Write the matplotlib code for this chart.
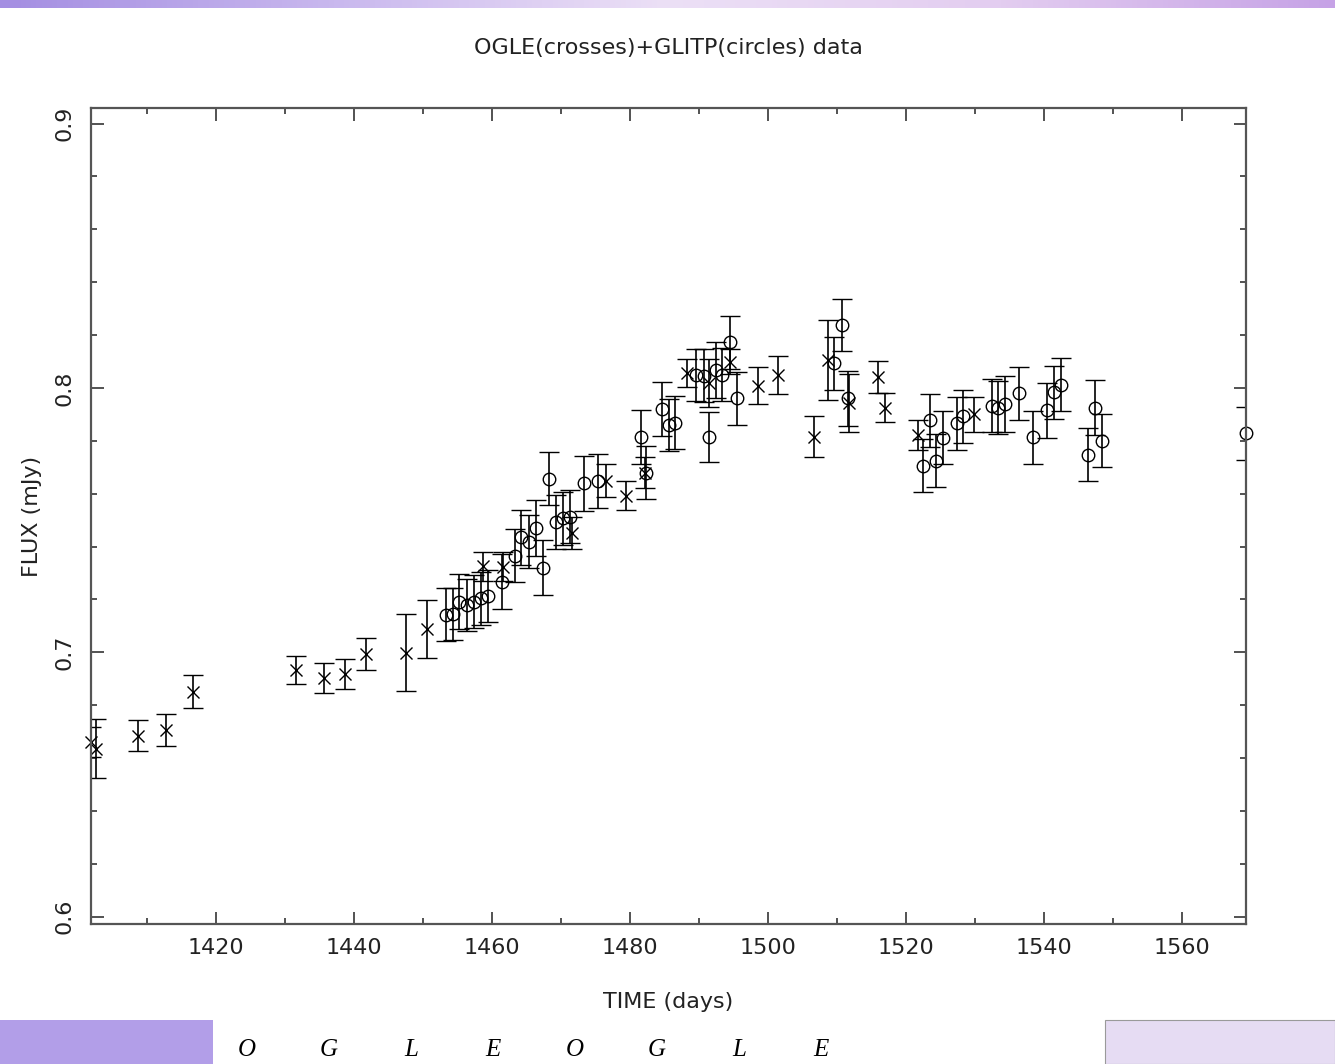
import numpy as np
import matplotlib
matplotlib.use("Agg")
import matplotlib.pyplot as plt
from matplotlib.colors import LinearSegmentedColormap
from matplotlib.patches import Rectangle

# OGLE points (crosses)
ogle_t = [1401.9, 1402.7, 1408.8, 1412.8, 1416.7, 1431.7, 1435.7, 1438.7, 1441.8,
          1447.6, 1450.6, 1458.7, 1461.6, 1471.6, 1476.6, 1479.5, 1482.2, 1488.3,
          1491.5, 1494.5, 1498.6, 1501.5, 1506.6, 1508.7, 1511.7, 1515.9, 1516.9,
          1521.8, 1529.8]
ogle_f = [0.6661, 0.6636, 0.6684, 0.6706, 0.6851, 0.6933, 0.6904, 0.6918, 0.6994,
          0.6999, 0.7089, 0.7325, 0.7324, 0.7450, 0.7649, 0.7592, 0.7680, 0.8056,
          0.8018, 0.8100, 0.8008, 0.8050, 0.7816, 0.8106, 0.7942, 0.8041, 0.7926,
          0.7823, 0.7901]
ogle_e = [0.0056, 0.0112, 0.0058, 0.0060, 0.0063, 0.0054, 0.0057, 0.0056, 0.0060,
          0.0146, 0.0110, 0.0055, 0.0055, 0.0060, 0.0063, 0.0055, 0.0060, 0.0052,
          0.0090, 0.0047, 0.0070, 0.0072, 0.0076, 0.0150, 0.0110, 0.0060, 0.0053,
          0.0057, 0.0066]

# GLITP points (circles)
glitp_t = [1453.3, 1454.4, 1455.3, 1456.4, 1457.4, 1458.4, 1459.4, 1461.5, 1463.4,
           1464.2, 1465.4, 1466.4, 1467.4, 1468.3, 1469.3, 1470.3, 1471.3, 1473.3,
           1475.4, 1481.6, 1482.4, 1484.6, 1485.6, 1486.5, 1489.6, 1490.7, 1491.4,
           1492.5, 1493.3, 1494.5, 1495.5, 1509.6, 1510.7, 1511.6, 1522.4, 1523.4,
           1524.3, 1525.4, 1527.4, 1528.3, 1532.4, 1533.3, 1534.4, 1536.4, 1538.4,
           1540.4, 1541.4, 1542.4, 1546.4, 1547.4, 1548.4, 1569.2]
glitp_f = [0.7142, 0.7145, 0.7192, 0.7179, 0.7192, 0.7205, 0.7213, 0.7267, 0.7366,
           0.7435, 0.7419, 0.7470, 0.7320, 0.7656, 0.7492, 0.7507, 0.7513, 0.7640,
           0.7649, 0.7814, 0.7680, 0.7921, 0.7860, 0.7869, 0.8050, 0.8046, 0.7814,
           0.8068, 0.8050, 0.8173, 0.7961, 0.8094, 0.8238, 0.7961, 0.7706, 0.7877,
           0.7725, 0.7812, 0.7867, 0.7892, 0.7933, 0.7926, 0.7939, 0.7980, 0.7814,
           0.7915, 0.7983, 0.8013, 0.7747, 0.7926, 0.7801, 0.7829]
glitp_e = [0.0100, 0.0100, 0.0105, 0.0100, 0.0100, 0.0100, 0.0100, 0.0105, 0.0100,
           0.0104, 0.0100, 0.0107, 0.0103, 0.0100, 0.0102, 0.0100, 0.0100, 0.0104,
           0.0103, 0.0102, 0.0100, 0.0101, 0.0098, 0.0100, 0.0099, 0.0100, 0.0095,
           0.0105, 0.0100, 0.0100, 0.0100, 0.0100, 0.0100, 0.0104, 0.0100, 0.0100,
           0.0100, 0.0100, 0.0100, 0.0100, 0.0100, 0.0100, 0.0107, 0.0100, 0.0100,
           0.0104, 0.0100, 0.0100, 0.0100, 0.0105, 0.0100, 0.0100]

xticks = [1420, 1440, 1460, 1480, 1500, 1520, 1540, 1560]
yticks = [0.6, 0.7, 0.8, 0.9]
slide_letters = ["O", "G", "L", "E", "O", "G", "L", "E"]

W, H = 1335, 1064
fig = plt.figure(figsize=(W / 100, H / 100), dpi=100)
fig.patch.set_facecolor("white")

# slide decorations: purple band on top, blocks at the bottom
band = fig.add_axes([0, 1 - 8 / H, 1, 8 / H])
cmap = LinearSegmentedColormap.from_list("band", ["#a48ee2", "#c9b8ee", "#ece0f6", "#e3cdf0", "#c6a2e6"])
band.imshow(np.linspace(0, 1, 256).reshape(1, -1), aspect="auto", cmap=cmap)
band.axis("off")

fig.patches.append(Rectangle((0, 0), 213 / W, 44 / H, transform=fig.transFigure,
                             facecolor="#b29ee8", edgecolor="none"))
fig.patches.append(Rectangle((1105 / W, 0), 230 / W, 44 / H, transform=fig.transFigure,
                             facecolor="#e6dcf3", edgecolor="#9a9a9a", linewidth=0.8))
for i, ch in enumerate(slide_letters):
    fig.text((247 + i * 82) / W, 3 / H, ch, fontsize=18, family="Liberation Serif",
             style="italic", ha="center", va="bottom", color="black")

ax = fig.add_axes([90.7 / W, 1 - 924.3 / H, (1245.7 - 90.7) / W, (924.3 - 108) / H])

for t, f, e, fmt, kw in [(ogle_t, ogle_f, ogle_e, "x", dict(ms=8)),
                         (glitp_t, glitp_f, glitp_e, "o", dict(ms=9, mfc="none"))]:
    line, caps, bars = ax.errorbar(t, f, yerr=e, fmt=fmt, color="black", mew=1.0,
                                   elinewidth=1.2, capsize=7, capthick=1.2, **kw)
    line.set_clip_on(False)  # markers on the edges are drawn whole

ax.set_xlim(1401.9, 1569.2)
ax.set_ylim(0.5971, 0.9059)
ax.set_xticks(xticks)
ax.set_xticks(np.arange(1410, 1570, 10), minor=True)
ax.set_yticks(yticks)
ax.set_yticks(np.arange(0.6, 0.91, 0.02), minor=True)
ax.set_yticklabels([f"{v:.1f}" for v in yticks], rotation=90, va="center")

ax.tick_params(which="both", direction="in", top=True, right=True, colors="#444444",
               labelcolor="#222222", labelsize=16)
ax.tick_params(which="major", length=9, width=1.3)
ax.tick_params(which="minor", length=4.5, width=1.3)
ax.tick_params(axis="x", pad=10)
ax.tick_params(axis="y", pad=12)
for s in ax.spines.values():
    s.set_color("#555555")
    s.set_linewidth(1.6)

ax.set_xlabel("TIME (days)", fontsize=16, color="#222222", labelpad=24)
ax.set_ylabel("FLUX (mJy)", fontsize=16, color="#222222", labelpad=9)
fig.text(668 / W, 1 - 48 / H, "OGLE(crosses)+GLITP(circles) data", fontsize=16,
         color="#222222", ha="center", va="center")

fig.savefig("out.png", dpi=100)
